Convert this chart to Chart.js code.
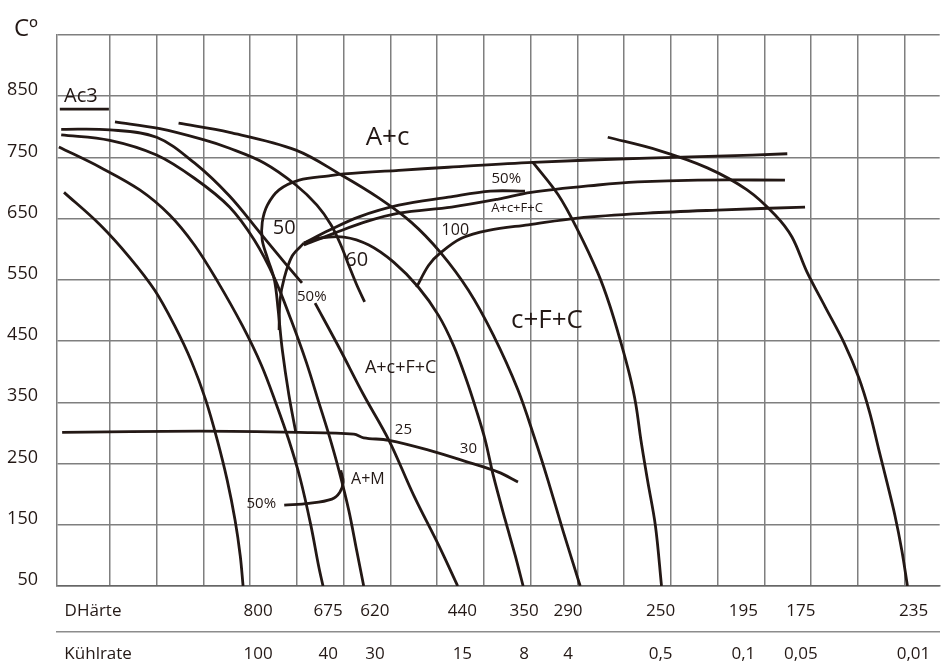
<!DOCTYPE html>
<html>
<head>
<meta charset="utf-8">
<script src="https://cdn.jsdelivr.net/npm/chart.js@4.4.0/dist/chart.umd.min.js"></script>
<style>
  html, body { margin: 0; padding: 0; background: #fff; }
  #wrap { width: 943px; height: 666px; position: relative; }
</style>
</head>
<body>
<div id="wrap"><canvas id="cct"></canvas></div>
<script>
// temperature axis, degrees C
const tempTicks = [850, 750, 650, 550, 450, 350, 250, 150, 50];

// bottom rows: position on the grid, hardness, cooling rate
const rowPos = [4.17, 5.67, 6.67, 8.54, 9.86, 10.80, 12.78, 14.55, 15.78, 18.19];
const hardness = ['800', '675', '620', '440', '350', '290', '250', '195', '175', '235'];
const coolRate = ['100', '40', '30', '15', '8', '4', '0,5', '0,1', '0,05', '0,01'];
const rowTitles = ['DHärte', 'Kühlrate'];

// cooling curves [grid x, temp]
const k1 = [[0.02,693],[0.79,640],[1.43,586],[1.96,533],[2.38,476],[2.75,416],[3.05,354],[3.30,288],[3.51,223],[3.68,157],[3.79,99],[3.85,50]];
const k2 = [[-0.09,767],[0.79,734],[1.64,697],[2.28,656],[2.81,607],[3.30,548],[3.83,476],[4.24,411],[4.56,347],[4.83,288],[5.07,226],[5.30,149],[5.47,81],[5.56,50]];
const k3 = [[-0.04,787],[1.00,778],[2.00,754],[2.81,716],[3.56,669],[4.09,615],[4.52,553],[4.88,484],[5.20,416],[5.47,350],[5.69,296],[5.90,239],[6.11,174],[6.28,108],[6.43,50]];
const k4a = [[-0.04,796],[1.00,795],[2.00,783],[2.81,741],[3.56,687],[4.20,628],[4.73,579],[5.11,545]];
const k4b = [[5.39,512],[5.90,440],[6.43,362],[6.97,288],[7.50,198],[8.03,117],[8.44,50]];
const k60 = [[1.11,808],[2.07,797],[3.00,779],[3.56,765],[4.30,741],[4.98,705],[5.43,672],[5.73,640],[5.94,607],[6.11,574],[6.28,542],[6.45,514]];
const k5 = [[5.15,610],[5.47,618],[6.01,620],[6.54,607],[7.07,579],[7.60,538],[8.03,492],[8.35,443],[8.63,386],[8.84,337],[9.03,288],[9.20,231],[9.46,157],[9.67,100],[9.84,50]];
const k6 = [[2.47,806],[3.56,791],[4.98,762],[5.96,721],[6.75,684],[7.45,644],[8.07,595],[8.67,533],[9.20,460],[9.73,370],[10.10,288],[10.37,223],[10.69,141],[11.06,50]];
const k7 = [[10.05,742],[10.59,689],[11.01,631],[11.44,561],[11.69,509],[11.93,448],[12.12,394],[12.25,347],[12.36,288],[12.50,223],[12.67,148],[12.80,50]];
const k8 = [[11.65,783],[12.72,762],[13.78,733],[14.63,697],[15.23,656],[15.59,620],[15.91,563],[16.30,506],[16.70,448],[17.02,390],[17.25,334],[17.45,272],[17.62,220],[17.79,166],[17.94,108],[18.06,50]];

// transformation lines
const acStart = [[4.98,300],[4.83,362],[4.69,435],[4.60,501],[4.52,550],[4.37,586],[4.26,615],[4.26,644],[4.37,672],[4.62,697],[5.05,713],[5.69,720],[6.01,723],[7.18,729],[8.24,734],[10.05,742],[12.50,749],[13.99,752],[15.49,756]];
const half = [[5.15,610],[5.69,631],[6.33,653],[7.18,672],[8.24,685],[9.14,695],[9.88,695]];
const acfcStart = [[5.15,607],[5.79,626],[6.43,644],[7.18,659],[8.31,669],[9.31,682],[10.01,693],[11.44,705],[12.29,710],[13.57,713],[15.44,713]];
const line100 = [[7.56,538],[7.82,574],[8.07,594],[8.52,618],[9.10,631],[9.95,640],[11.01,651],[12.50,659],[13.99,664],[15.87,669]];
const innerC = [[5.15,610],[4.90,589],[4.73,553],[4.64,517],[4.62,468]];
const hook = [[4.73,182],[5.26,185],[5.75,192],[5.92,203],[5.99,220],[5.94,239]];
const ms = [[-0.02,301],[2.92,303],[5.05,301],[6.22,298],[6.43,292],[6.97,288],[7.82,272],[8.67,252],[9.31,236],[9.73,220]];
const ac3 = [[-0.07,829],[0.98,829]];

// zone labels [text, grid x, temp]
const zoneLabels = [
  ['Ac3', 0.38, 850], ['A+c', 6.94, 782], ['50%', 9.48, 715], ['A+c+F+C', 9.71, 667],
  ['100', 8.39, 631], ['50', 4.73, 635], ['60', 6.28, 582], ['50%', 5.32, 522],
  ['c+F+C', 10.35, 483], ['A+c+F+C', 7.22, 407], ['25', 7.28, 305], ['30', 8.67, 274],
  ['A+M', 6.52, 224], ['50%', 4.24, 185]
];
const zoneSize = [20, 26, 15, 13, 16, 20, 20, 15, 26, 18, 15, 15, 16, 15];

const ink = '#231815';
const gridGray = '#7f7f7f';
const face = '"Open Sans", "Noto Sans", sans-serif';
const xMin = -0.13, xMax = 18.75;

const curves = [k1, k2, k3, k4a, k4b, k60, k5, k6, k7, k8,
  acStart, half, acfcStart, line100, innerC, hook, ms, ac3];

const zoneText = {
  id: 'zoneText',
  afterDatasetsDraw(chart) {
    const { ctx, scales: { x, y } } = chart;
    ctx.save();
    ctx.fillStyle = ink;
    ctx.textAlign = 'center';
    ctx.textBaseline = 'middle';
    zoneLabels.forEach(([txt, gx, t], i) => {
      ctx.font = zoneSize[i] + 'px ' + face;
      ctx.fillText(txt, x.getPixelForValue(gx), y.getPixelForValue(t));
    });
    ctx.restore();
  }
};

function rowAxis(labels, title, titlePos, weight, h, pad, border) {
  return {
    type: 'linear',
    position: 'bottom',
    weight: weight,
    min: xMin,
    max: xMax,
    afterBuildTicks: (s) => {
      s.ticks = [{ value: titlePos }].concat(rowPos.map(v => ({ value: v })));
    },
    afterFit: (s) => { s.height = h; },
    grid: { display: false, drawTicks: false },
    border: { display: border, color: '#8c8c8c', width: 1.5 },
    ticks: {
      autoSkip: false,
      maxRotation: 0,
      padding: pad,
      color: ink,
      font: { family: face, size: 17 },
      callback: (v, i) => (i === 0 ? title : labels[i - 1])
    }
  };
}

new Chart(document.getElementById('cct'), {
  type: 'scatter',
  data: {
    datasets: curves.map(c => ({
      data: c.map(([x, y]) => ({ x, y })),
      showLine: true,
      borderColor: ink,
      borderWidth: 2.8,
      pointRadius: 0,
      tension: 0.35,
      fill: false,
      xAxisID: 'x',
      yAxisID: 'y'
    }))
  },
  options: {
    responsive: true,
    maintainAspectRatio: false,
    animation: false,
    layout: { padding: { top: 35, left: 0, right: 0, bottom: 0 } },
    plugins: { legend: { display: false }, tooltip: { enabled: false } },
    scales: {
      x: {
        type: 'linear',
        min: xMin,
        max: xMax,
        weight: 0,
        afterBuildTicks: (s) => {
          const t = [];
          for (let i = 1; i <= 18; i++) t.push({ value: i });
          s.ticks = t;
        },
        afterFit: (s) => { s.height = 0; },
        grid: { color: gridGray, lineWidth: 1.5, drawTicks: false },
        border: { color: '#666', width: 1.5 },
        ticks: { display: false }
      },
      xh: rowAxis(hardness, rowTitles[0], 0.64, 1, 46, 14.8, false),
      xk: rowAxis(coolRate, rowTitles[1], 0.75, 2, 34, 11.8, true),
      y: {
        type: 'linear',
        min: 50,
        max: 950,
        afterBuildTicks: (s) => {
          const t = [];
          for (let v = 50; v <= 950; v += 100) t.push({ value: v });
          s.ticks = t;
        },
        afterFit: (s) => { s.width = 57; },
        grid: { color: gridGray, lineWidth: 1.5, drawTicks: false },
        border: { color: gridGray, width: 1.5 },
        ticks: {
          padding: 19,
          color: ink,
          font: (c) => ({ family: face, size: c.tick && c.tick.value === 950 ? 24 : 18 }),
          labelOffset: (c) => (c.tick && c.tick.value === 950 ? -11 : -6),
          callback: (v) => (tempTicks.includes(v) ? String(v) : (v === 950 ? 'Cº' : ''))
        }
      }
    }
  },
  plugins: [zoneText]
});
</script>
</body>
</html>
